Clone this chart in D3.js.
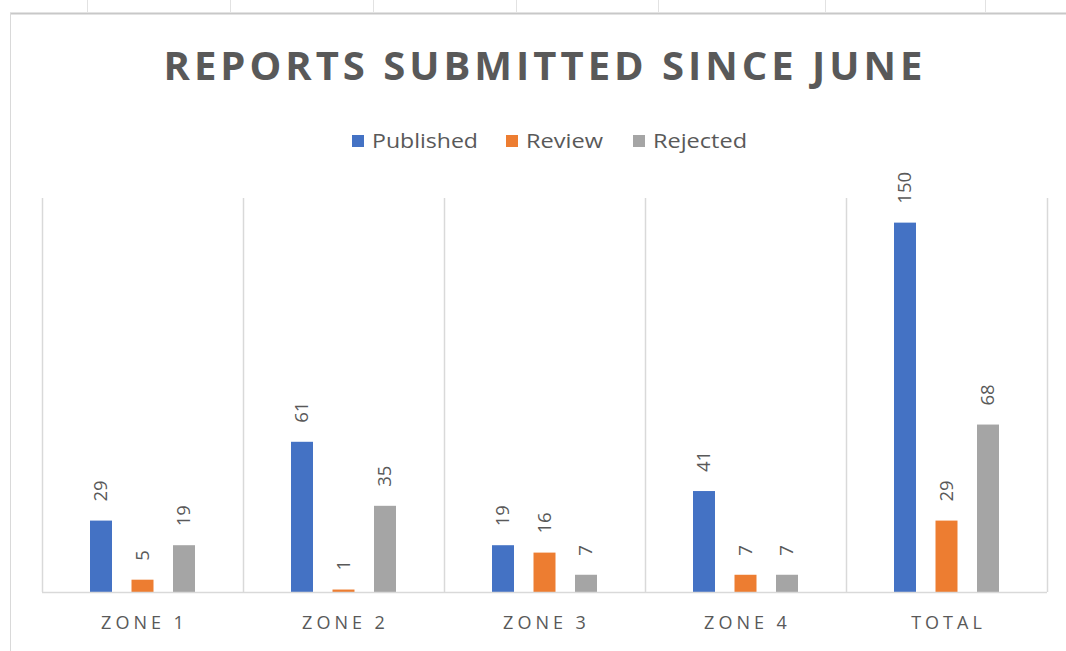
<!DOCTYPE html>
<html>
<head>
<meta charset="utf-8">
<script src="https://cdn.jsdelivr.net/npm/d3@7"></script>
<style>
  body { margin: 0; background: #fff; }
  svg { display: block; }
  text { font-family: "Open Sans", sans-serif; fill: #595959; }
</style>
</head>
<body>
<svg width="1066" height="651"></svg>
<script>
let categories = ["ZONE 1", "ZONE 2", "ZONE 3", "ZONE 4", "TOTAL"]
let series = ["Published", "Review", "Rejected"]
let published = [29, 61, 19, 41, 150]
let review = [5, 1, 16, 7, 29]
let rejected = [19, 35, 7, 7, 68]
let colors = ["#4472c4", "#ed7d31", "#a5a5a5"]

let width = 1066;
let height = 651;

let svg = d3.select("svg")

// spreadsheet frame round the chart
svg.append("line")
    .attr("x1", 10).attr("x2", width)
    .attr("y1", 13.5).attr("y2", 13.5)
    .style("stroke", "#c8c8c8")
    .style("stroke-width", 2)
svg.append("line")
    .attr("x1", 10.5).attr("x2", 10.5)
    .attr("y1", 13).attr("y2", height)
    .style("stroke", "#d9d9d9")
svg.selectAll(".cell")
    .data([87, 230, 373, 516, 658, 825, 985])
    .join("line")
    .attr("x1", d => d + 0.5).attr("x2", d => d + 0.5)
    .attr("y1", 0).attr("y2", 12)
    .style("stroke", "#e2e2e2")

let values = series.map((s, i) => [published, review, rejected][i])

let x0 = d3.scaleBand()
    .domain(categories)
    .range([42, 1047])

let x1 = d3.scaleBand()
    .domain(series)
    .range([48, 195 - 42])
    .paddingInner(0.47)

let y = d3.scaleLinear()
    .domain([0, 160])
    .range([592, 198])

// title
svg.append("text")
    .attr("x", 543)
    .attr("y", 80)
    .attr("text-anchor", "middle")
    .attr("textLength", 759)
    .attr("lengthAdjust", "spacing")
    .style("font-size", "40px")
    .style("font-weight", "bold")
    .text("REPORTS SUBMITTED SINCE JUNE")

// legend
let legendX = [352, 506, 633]
let legendW = [106, 77, 94]
let legend = svg.selectAll(".legend")
    .data(series)
    .join("g")
    .attr("transform", (d, i) => "translate(" + legendX[i] + ",141)")
legend.append("rect")
    .attr("x", 0).attr("y", -6)
    .attr("width", 12).attr("height", 12)
    .style("fill", (d, i) => colors[i])
legend.append("text")
    .attr("x", 20)
    .attr("dy", "0.35em")
    .attr("textLength", (d, i) => legendW[i])
    .attr("lengthAdjust", "spacingAndGlyphs")
    .style("font-size", "20px")
    .text(d => d)

// category dividers
svg.selectAll(".divider")
    .data(categories.concat(["end"]))
    .join("line")
    .attr("x1", (d, i) => Math.round(x0.range()[0] + i * x0.step()) + 0.5)
    .attr("x2", (d, i) => Math.round(x0.range()[0] + i * x0.step()) + 0.5)
    .attr("y1", y(160))
    .attr("y2", y(0))
    .style("stroke", "#d9d9d9")
    .style("stroke-width", 1.5)

let groups = svg.selectAll(".zone")
    .data(categories)
    .join("g")
    .attr("transform", d => "translate(" + x0(d) + ",0)")

groups.selectAll("rect")
    .data((d, ci) => series.map((s, si) => ({ s: s, si: si, v: values[si][ci] })))
    .join("rect")
    .attr("x", d => x1(d.s))
    .attr("width", x1.bandwidth())
    .attr("y", d => y(d.v))
    .attr("height", d => y(0) - y(d.v))
    .style("fill", d => colors[d.si])

groups.selectAll(".lbl")
    .data((d, ci) => series.map((s, si) => ({ s: s, si: si, v: values[si][ci] })))
    .join("text")
    .attr("transform", d => "translate(" + (x1(d.s) + x1.bandwidth() / 2) + "," + (y(d.v) - 19) + ") rotate(-90)")
    .attr("dy", "0.35em")
    .style("font-size", "18.5px")
    .text(d => d.v)

// baseline and axis labels
svg.append("line")
    .attr("x1", 42).attr("x2", 1047)
    .attr("y1", y(0) + 0.5).attr("y2", y(0) + 0.5)
    .style("stroke", "#d9d9d9")
    .style("stroke-width", 1.5)

svg.selectAll(".cat")
    .data(categories)
    .join("text")
    .attr("x", d => x0(d) + x0.bandwidth() / 2 + 2)
    .attr("y", 629)
    .attr("text-anchor", "middle")
    .style("font-size", "18px")
    .style("letter-spacing", "4px")
    .text(d => d)
</script>
</body>
</html>
